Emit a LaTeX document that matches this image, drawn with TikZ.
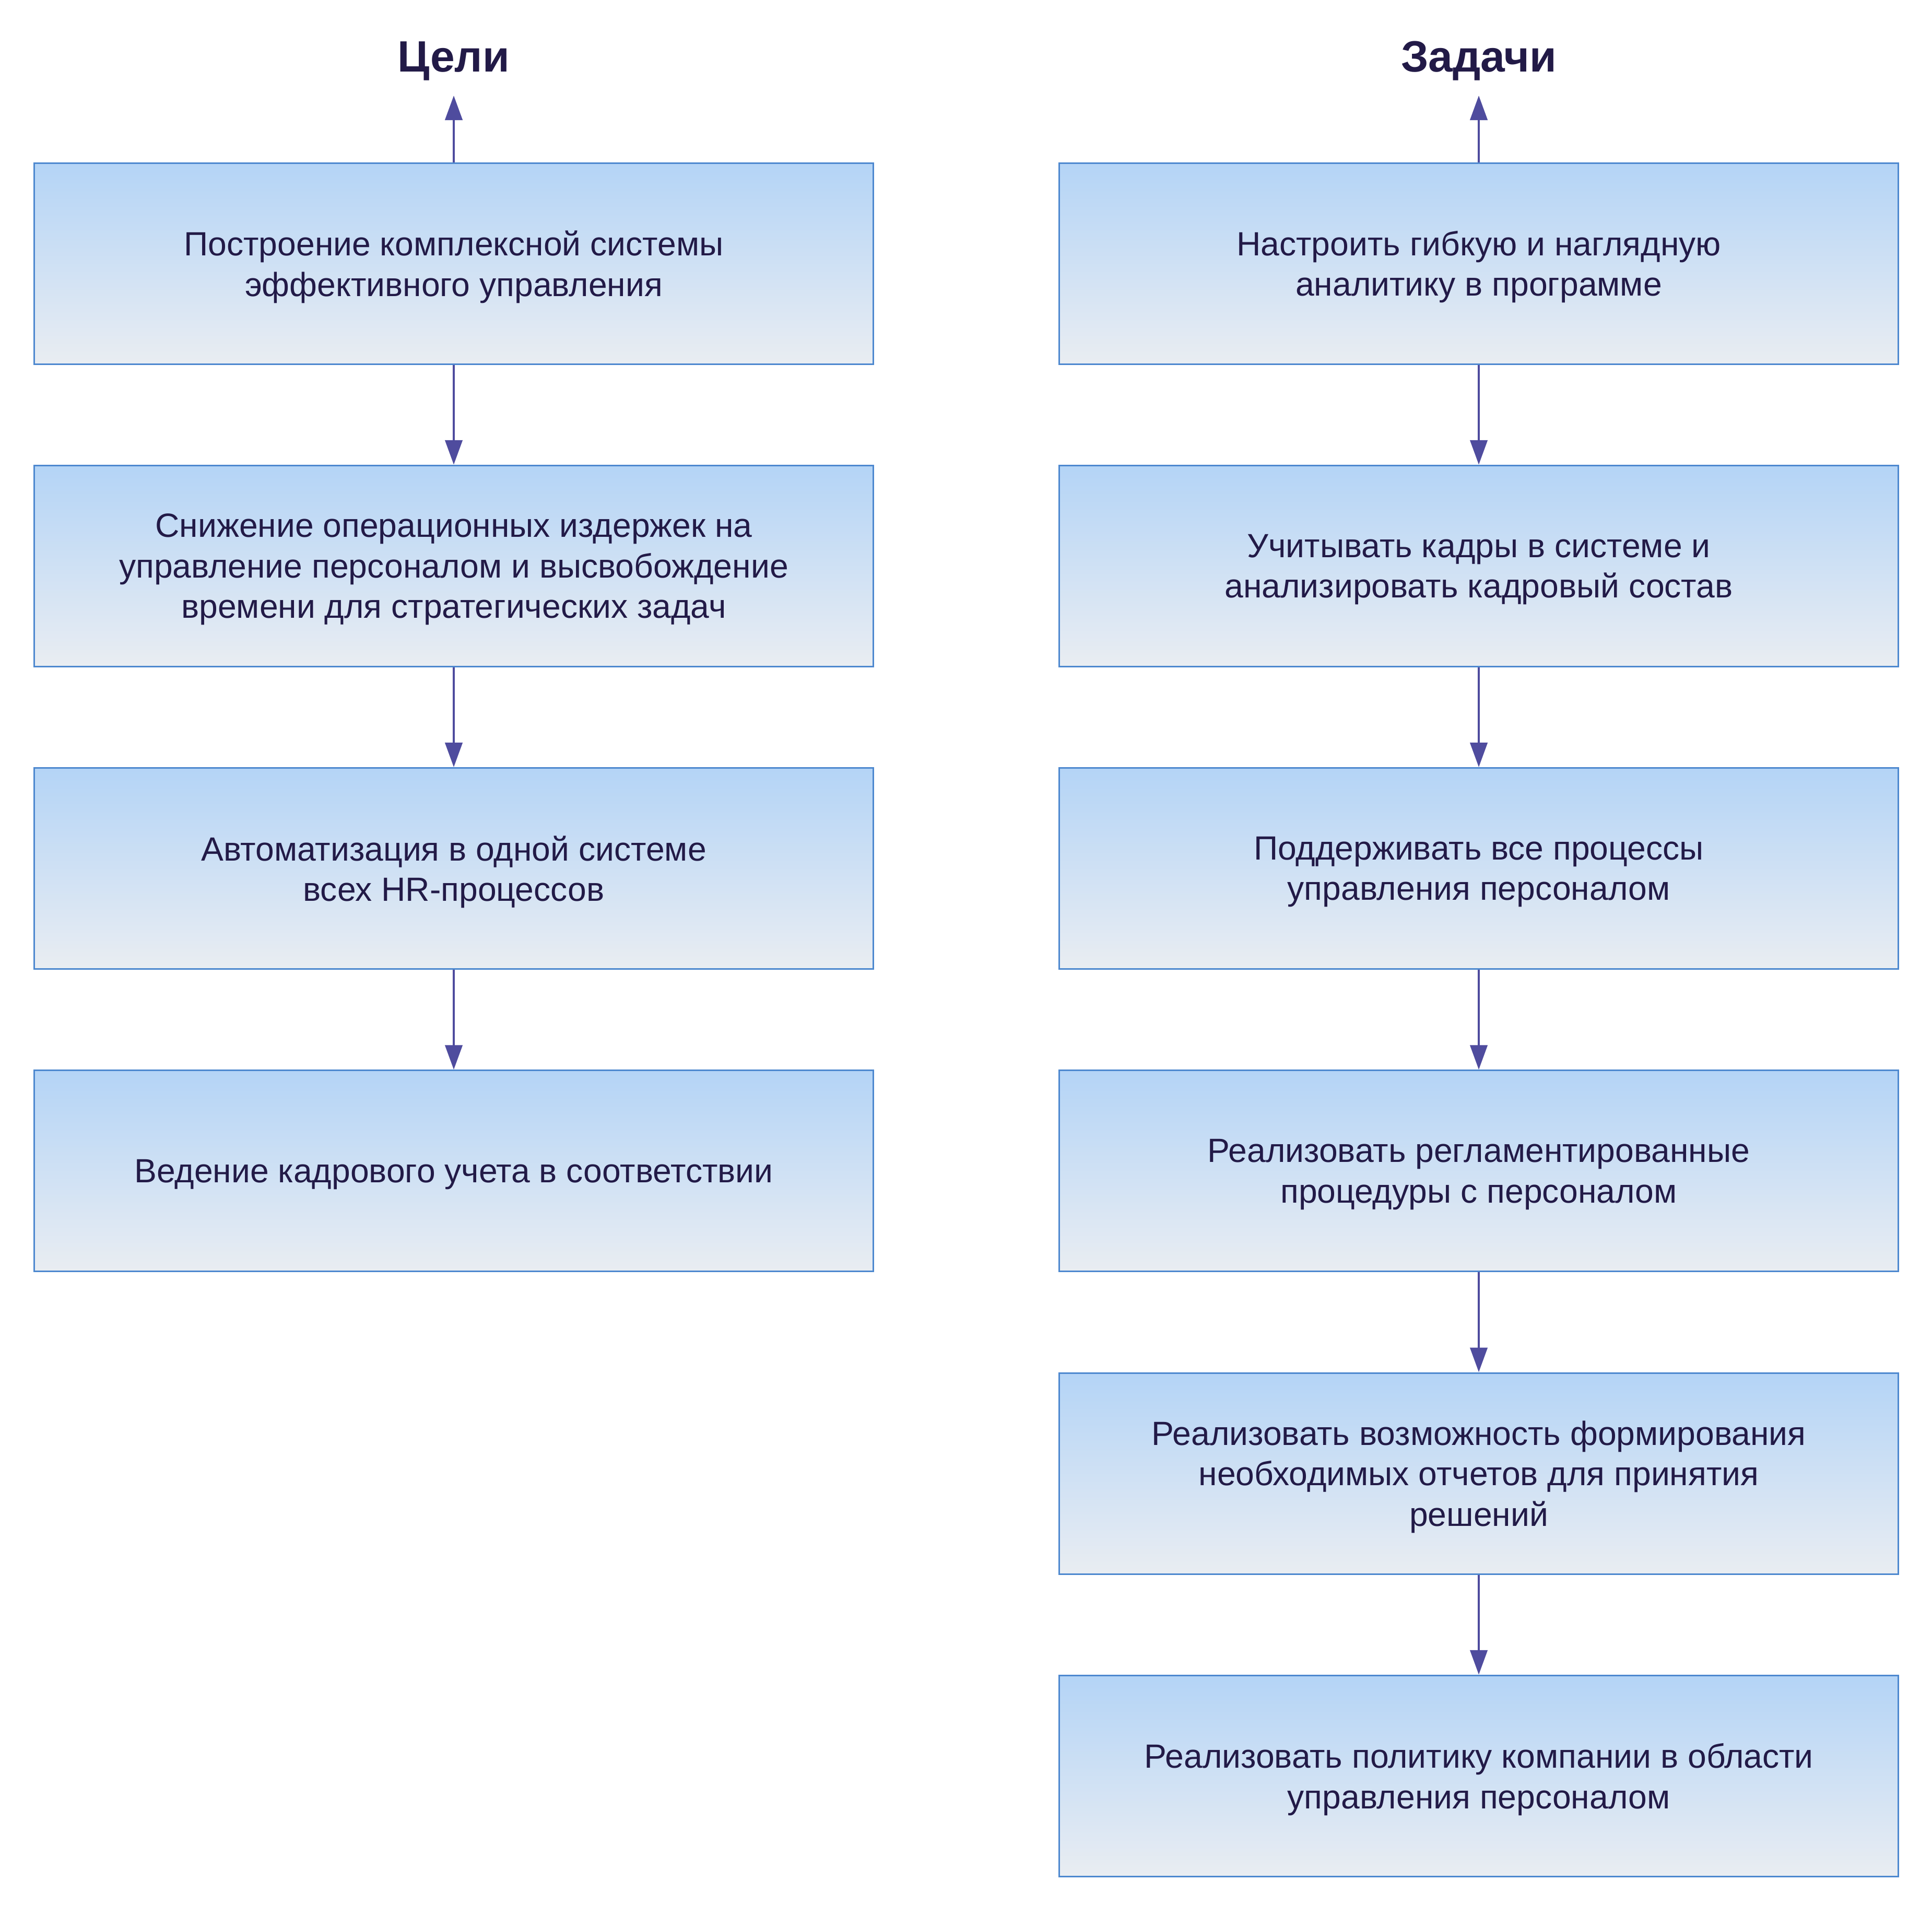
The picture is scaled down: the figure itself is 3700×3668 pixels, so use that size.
\documentclass[tikz,border=0pt]{standalone}
\usepackage{fontspec}
\setmainfont{Liberation Sans}
\usetikzlibrary{arrows.meta}
\definecolor{boxborder}{HTML}{4D88CF}
\definecolor{boxtop}{HTML}{B4D4F6}
\definecolor{boxbottom}{HTML}{E9EDF2}
\definecolor{txt}{HTML}{221A47}
\definecolor{arr}{HTML}{4F4C9E}
\tikzset{
  box/.style={draw=boxborder, line width=0.6pt, top color=boxtop, bottom color=boxbottom,
    minimum width=321.4pt, minimum height=77pt, inner sep=0pt, align=center, text depth=0pt,
    text=txt, font=\fontsize{12.85pt}{15.5pt}\selectfont},
  title/.style={text=txt, font=\fontsize{16.8pt}{20pt}\selectfont\bfseries, anchor=base, inner sep=0pt},
  conn/.style={draw=arr, line width=0.9pt, -{Triangle[length=9.4pt,width=6.6pt]}}
}
\begin{document}
\begin{tikzpicture}[x=0.2pt,y=-0.2pt]
\useasboundingbox (0,0) rectangle (3700,3668);
% titles
\node[title] (tL) at (869,137) {Цели};
\node[title] (tR) at (2832,137) {Задачи};
\coordinate (cL) at (869,183);
\coordinate (cR) at (2832,183);
% left column
\node[box] (L1) at (869,504.5) {Построение комплексной системы\\эффективного управления};
\node[box] (L2) at (869,1083.75) {Снижение операционных издержек на\\управление персоналом и высвобождение\\времени для стратегических задач};
\node[box] (L3) at (869,1663) {Автоматизация в одной системе\\всех HR-процессов};
\node[box] (L4) at (869,2242.25) {Ведение кадрового учета в соответствии};
% right column
\node[box] (R1) at (2832,504.5) {Настроить гибкую и наглядную\\аналитику в программе};
\node[box] (R2) at (2832,1083.75) {Учитывать кадры в системе и\\анализировать кадровый состав};
\node[box] (R3) at (2832,1663) {Поддерживать все процессы\\управления персоналом};
\node[box] (R4) at (2832,2242.25) {Реализовать регламентированные\\процедуры с персоналом};
\node[box] (R5) at (2832,2821.5) {Реализовать возможность формирования\\необходимых отчетов для принятия\\решений};
\node[box] (R6) at (2832,3400.75) {Реализовать политику компании в области\\управления персоналом};
% connectors
\draw[conn] (L1.north) -- (cL);
\draw[conn] (R1.north) -- (cR);
\draw[conn] (L1) -- (L2);
\draw[conn] (L2) -- (L3);
\draw[conn] (L3) -- (L4);
\draw[conn] (R1) -- (R2);
\draw[conn] (R2) -- (R3);
\draw[conn] (R3) -- (R4);
\draw[conn] (R4) -- (R5);
\draw[conn] (R5) -- (R6);
\end{tikzpicture}
\end{document}
